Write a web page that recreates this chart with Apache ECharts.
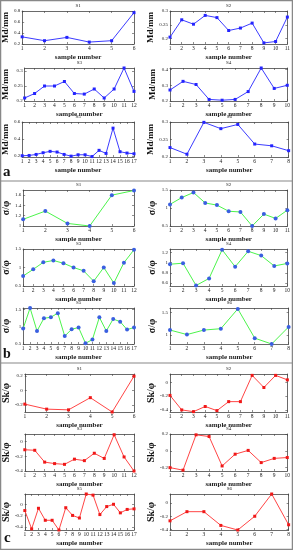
<!DOCTYPE html>
<html><head><meta charset="utf-8">
<script src="https://cdn.jsdelivr.net/npm/echarts@6/dist/echarts.min.js"></script>
<style>html,body{margin:0;padding:0;background:#fff}#c{width:293px;height:550px}</style>
</head><body><div id="c"></div><script>
// ---- data: panel a (Md/mm) ----
const aS1 = [0.33, 0.26, 0.32, 0.235, 0.26, 0.77];
const aS2 = [0.205, 0.268, 0.252, 0.284, 0.276, 0.229, 0.238, 0.256, 0.184, 0.189, 0.278];
const aS3 = [0.21, 0.225, 0.25, 0.25, 0.265, 0.225, 0.223, 0.24, 0.21, 0.24, 0.31, 0.232];
const aS4 = [0.27, 0.325, 0.305, 0.21, 0.205, 0.21, 0.26, 0.41, 0.28, 0.3];
const aS5 = [0.205, 0.208, 0.22, 0.24, 0.256, 0.248, 0.22, 0.2, 0.216, 0.216, 0.195, 0.268, 0.232, 0.528, 0.252, 0.236, 0.228];
const aS6 = [0.227, 0.208, 0.299, 0.281, 0.293, 0.237, 0.232, 0.218];
// ---- panel b (sigma/phi) ----
const bS1 = [1.13, 1.29, 1.05, 1.0, 1.6, 1.69];
const bS2 = [1.1, 1.29, 1.43, 1.14, 1.08, 0.91, 0.89, 0.5, 0.83, 0.71, 0.94];
const bS3 = [0.77, 0.95, 1.14, 1.19, 1.115, 1.0, 0.91, 0.63, 1.0, 0.58, 1.13, 1.48];
const bS4 = [0.97, 0.99, 0.55, 0.69, 1.255, 0.92, 1.225, 1.14, 0.935, 0.985];
const bS5 = [0.95, 1.55, 0.88, 1.25, 1.28, 1.4, 0.73, 0.93, 0.98, 0.52, 0.63, 1.28, 0.88, 1.23, 1.15, 0.92, 0.98];
const bS6 = [1.11, 1.01, 1.11, 1.14, 1.58, 0.93, 0.8, 1.18];
// ---- panel c (Sk/phi) ----
const cS1 = [-0.19, -0.26, -0.27, -0.1, -0.3, 0.2];
const cS2 = [-0.19, -0.4, -0.425, -0.35, -0.41, -0.28, -0.28, 0.1, -0.075, 0.1, 0.035];
const cS3 = [-0.113, -0.12, -0.28, -0.3, -0.31, -0.24, -0.26, -0.16, -0.23, 0.09, -0.21, -0.4];
const cS4 = [-0.2, -0.23, 0.19, 0.17, -0.18, -0.04, 0.005, -0.14, -0.09, -0.08];
const cS5 = [-0.11, -0.43, -0.07, -0.28, -0.28, -0.45, -0.06, -0.195, -0.24, 0.18, 0.16, -0.18, -0.04, 0, -0.15, -0.09, -0.08];
const cS6 = [-0.27, -0.13, -0.13, -0.34, -0.41, -0.2, 0.14, -0.33];
// ---- y ranges and tick values ----
const aRanges = [[0.2, 0.8], [0.18, 0.3], [0.2, 0.31], [0.2, 0.41], [0.19, 0.6], [0.2, 0.3]];
const aTicks = [[0.2, 0.4, 0.6, 0.8], [0.2, 0.25, 0.3], [0.2, 0.25, 0.3], [0.2, 0.3, 0.4], [0.2, 0.4, 0.6], [0.2, 0.25, 0.3]];
const bRanges = [[1, 1.7], [0.5, 1.5], [0.5, 1.5], [0.54, 1.27], [0.5, 1.55], [0.8, 1.6]];
const bTicks = [[1, 1.2, 1.4, 1.6], [0.5, 1, 1.5], [0.5, 1, 1.5], [0.6, 0.8, 1, 1.2], [0.5, 1, 1.5], [1, 1.5]];
const cRanges = [[-0.3, 0.23], [-0.43, 0.12], [-0.4, 0.1], [-0.24, 0.2], [-0.45, 0.18], [-0.41, 0.14]];
const cTicks = [[-0.2, 0, 0.2], [-0.4, -0.2, 0], [-0.4, -0.2, 0], [-0.2, 0, 0.2], [-0.4, -0.2, 0], [-0.4, -0.2, 0]];
const titles = ['S1', 'S2', 'S3', 'S4', 'S5', 'S6'];
const yNames = ['Md/mm', 'σ/φ', 'Sk/φ'];
const xName = 'sample number';

const panels = [
  {data: [aS1, aS2, aS3, aS4, aS5, aS6], ranges: aRanges, ticks: aTicks, line: '#3c3cff', mark: '#2424ff', sym: 'rect', ss: 3},
  {data: [bS1, bS2, bS3, bS4, bS5, bS6], ranges: bRanges, ticks: bTicks, line: '#4cf44c', mark: '#3a5fe0', sym: 'circle', ss: 4},
  {data: [cS1, cS2, cS3, cS4, cS5, cS6], ranges: cRanges, ticks: cTicks, line: '#ff4545', mark: '#f01818', sym: 'rect', ss: 3}
];
const rowTop = [[11, 68, 122], [190, 249, 308], [374, 434, 494]];
const rowH = [[33, 33, 35], [36, 37, 36], [38, 37, 36]];
const colL = [16, 170], colW = [118, 120];
const SERIF = 'Liberation Serif, Times New Roman, serif';
const axLine = {show: true, onZero: false, lineStyle: {color: '#444', width: 0.8}};

const grid = [], xAxis = [], yAxis = [], series = [];
panels.forEach((p, pi) => {
  p.data.forEach((vals, k) => {
    const r = Math.floor(k / 2), c = k % 2, gi = grid.length;
    grid.push({left: colL[c], top: rowTop[pi][r], width: colW[c], height: rowH[pi][r]});
    const n = vals.length;
    xAxis.push({gridIndex: gi, type: 'value', min: 1, max: n, interval: 1, axisLine: axLine,
      axisTick: {inside: true, length: 2, lineStyle: {color: '#444', width: 0.6}},
      axisLabel: {fontSize: 5.5, margin: 2, color: '#222', fontFamily: SERIF},
      splitLine: {show: false},
      name: xName, nameLocation: 'middle', nameGap: 10,
      nameTextStyle: {fontSize: 7, fontWeight: 'bold', fontFamily: SERIF, color: '#222'}});
    xAxis.push({gridIndex: gi, type: 'value', position: 'top', min: 1, max: n, interval: 1, axisLine: axLine,
      axisTick: {inside: true, length: 2, lineStyle: {color: '#444', width: 0.6}},
      axisLabel: {show: false}, splitLine: {show: false},
      name: titles[k], nameLocation: 'middle', nameGap: 3,
      nameTextStyle: {fontSize: 5, fontFamily: SERIF, color: '#222'}});
    const rg = p.ranges[k], tk = p.ticks[k];
    yAxis.push({gridIndex: gi, type: 'value', min: rg[0], max: rg[1], axisLine: axLine,
      axisTick: {inside: true, length: 2, customValues: tk, lineStyle: {color: '#444', width: 0.6}},
      axisLabel: {customValues: tk, fontSize: 5, margin: 2, color: '#222', fontFamily: SERIF, formatter: v => String(+v.toFixed(3))},
      splitLine: {show: false},
      name: yNames[pi], nameLocation: 'middle', nameRotate: 90, nameGap: c === 0 ? 6 : 13,
      nameTextStyle: {fontSize: pi === 0 ? 9 : 10, fontWeight: 'bold', fontFamily: SERIF, color: '#111'}});
    yAxis.push({gridIndex: gi, type: 'value', position: 'right', min: rg[0], max: rg[1], axisLine: axLine,
      axisTick: {inside: true, length: 2, customValues: tk, lineStyle: {color: '#444', width: 0.6}},
      axisLabel: {show: false}, splitLine: {show: false}});
    series.push({type: 'line', xAxisIndex: 2 * gi, yAxisIndex: 2 * gi,
      data: vals.map((v, i) => [i + 1, v]), symbol: p.sym, symbolSize: p.ss, showSymbol: true,
      lineStyle: {color: p.line, width: 1}, itemStyle: {color: p.mark}, animation: false, clip: false});
  });
});

const graphic = [
  {type: 'rect', shape: {x: 0.5, y: 0.5, width: 292, height: 549}, style: {fill: 'none', stroke: '#888', lineWidth: 1.5}},
  {type: 'line', shape: {x1: 0, y1: 181, x2: 293, y2: 181}, style: {stroke: '#888', lineWidth: 1.2}},
  {type: 'line', shape: {x1: 0, y1: 363, x2: 293, y2: 363}, style: {stroke: '#888', lineWidth: 1.2}},
  {type: 'text', left: 3, top: 165, style: {text: 'a', font: 'bold 15px ' + SERIF, fill: '#111'}},
  {type: 'text', left: 3, top: 347, style: {text: 'b', font: 'bold 14px ' + SERIF, fill: '#111'}},
  {type: 'text', left: 4, top: 531, style: {text: 'c', font: 'bold 15px ' + SERIF, fill: '#111'}}
];

const chart = echarts.init(document.getElementById('c'), null, {renderer: 'canvas'});
chart.setOption({animation: false, backgroundColor: '#fff', grid, xAxis, yAxis, series, graphic});
</script></body></html>
